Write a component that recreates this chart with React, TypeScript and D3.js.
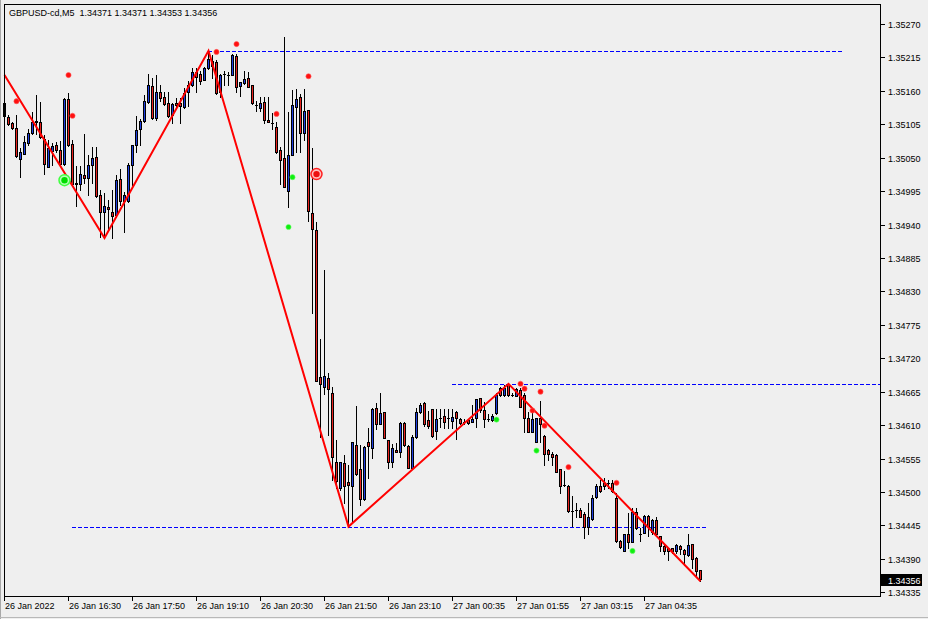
import * as d3 from 'd3';

// GBPUSD M5 bars, left to right
const opens = [
  1.35140, 1.35117, 1.35107, 1.35099, 1.35048, 1.35056, 1.35074, 1.35091, 1.35109, 1.35109,
  1.35081, 1.35035, 1.35061, 1.35071, 1.35063, 1.35040, 1.35147, 1.35073, 1.35008, 1.35007,
  1.35022, 1.35017, 1.35038, 1.35051, 1.34989, 1.34961, 1.34969, 1.34961, 1.34956, 1.35015,
  1.34979, 1.34979, 1.35038, 1.35071, 1.35097, 1.35110, 1.35142, 1.35168, 1.35115, 1.35158,
  1.35150, 1.35140, 1.35120, 1.35140, 1.35140, 1.35134, 1.35158, 1.35170, 1.35191, 1.35188,
  1.35178, 1.35198, 1.35209, 1.35208, 1.35158, 1.35188, 1.35186, 1.35186, 1.35217, 1.35168,
  1.35173, 1.35181, 1.35170, 1.35137, 1.35132, 1.35142, 1.35112, 1.35107, 1.35101, 1.35063,
  1.35050, 1.34995, 1.35055, 1.35134, 1.35150, 1.35091, 1.35129, 1.34959, 1.34931, 1.34689,
  1.34673, 1.34688, 1.34663, 1.34550, 1.34507, 1.34548, 1.34517, 1.34510, 1.34578, 1.34538,
  1.34489, 1.34582, 1.34573, 1.34638, 1.34612, 1.34632, 1.34586, 1.34550, 1.34569, 1.34565,
  1.34614, 1.34576, 1.34540, 1.34591, 1.34632, 1.34647, 1.34619, 1.34637, 1.34601, 1.34622,
  1.34625, 1.34622, 1.34617, 1.34632, 1.34620, 1.34615, 1.34619, 1.34615, 1.34622, 1.34655,
  1.34635, 1.34620, 1.34619, 1.34630, 1.34671, 1.34660, 1.34678, 1.34660, 1.34658, 1.34668,
  1.34660, 1.34622, 1.34599, 1.34582, 1.34622, 1.34592, 1.34569, 1.34563, 1.34561, 1.34537,
  1.34512, 1.34510, 1.34469, 1.34471, 1.34471, 1.34464, 1.34443, 1.34456, 1.34492, 1.34509,
  1.34515, 1.34514, 1.34514, 1.34490, 1.34420, 1.34403, 1.34430, 1.34418, 1.34467, 1.34431,
  1.34433, 1.34461, 1.34434, 1.34454, 1.34428, 1.34411, 1.34408, 1.34408, 1.34402, 1.34411,
  1.34405, 1.34397, 1.34415, 1.34392, 1.34371,
];

const highs = [
  1.35158, 1.35120, 1.35109, 1.35120, 1.35066, 1.35086, 1.35097, 1.35125, 1.35153, 1.35142,
  1.35087, 1.35079, 1.35074, 1.35076, 1.35078, 1.35148, 1.35157, 1.35079, 1.35036, 1.35036,
  1.35089, 1.35055, 1.35068, 1.35068, 1.34997, 1.34992, 1.34981, 1.34997, 1.35022, 1.35031,
  1.34994, 1.35041, 1.35071, 1.35119, 1.35114, 1.35153, 1.35188, 1.35181, 1.35186, 1.35170,
  1.35158, 1.35158, 1.35140, 1.35148, 1.35148, 1.35165, 1.35176, 1.35198, 1.35198, 1.35193,
  1.35199, 1.35226, 1.35219, 1.35211, 1.35188, 1.35193, 1.35191, 1.35221, 1.35221, 1.35175,
  1.35193, 1.35191, 1.35170, 1.35143, 1.35150, 1.35150, 1.35150, 1.35124, 1.35109, 1.35068,
  1.35249, 1.35125, 1.35161, 1.35163, 1.35155, 1.35163, 1.35129, 1.35066, 1.34944, 1.34752,
  1.34865, 1.34696, 1.34673, 1.34586, 1.34550, 1.34561, 1.34545, 1.34582, 1.34642, 1.34578,
  1.34576, 1.34606, 1.34638, 1.34647, 1.34662, 1.34632, 1.34586, 1.34579, 1.34581, 1.34615,
  1.34615, 1.34578, 1.34594, 1.34638, 1.34647, 1.34648, 1.34634, 1.34637, 1.34637, 1.34637,
  1.34637, 1.34637, 1.34637, 1.34634, 1.34622, 1.34620, 1.34620, 1.34643, 1.34653, 1.34655,
  1.34648, 1.34629, 1.34629, 1.34663, 1.34673, 1.34676, 1.34678, 1.34663, 1.34671, 1.34671,
  1.34662, 1.34632, 1.34638, 1.34622, 1.34650, 1.34594, 1.34571, 1.34566, 1.34563, 1.34538,
  1.34535, 1.34512, 1.34494, 1.34481, 1.34474, 1.34467, 1.34481, 1.34495, 1.34513, 1.34520,
  1.34523, 1.34520, 1.34520, 1.34499, 1.34421, 1.34431, 1.34466, 1.34474, 1.34474, 1.34441,
  1.34462, 1.34462, 1.34456, 1.34458, 1.34428, 1.34413, 1.34408, 1.34408, 1.34415, 1.34413,
  1.34406, 1.34430, 1.34415, 1.34393, 1.34371,
];

const lows = [
  1.35117, 1.35104, 1.35097, 1.35051, 1.35018, 1.35056, 1.35071, 1.35089, 1.35089, 1.35082,
  1.35023, 1.35035, 1.35038, 1.35060, 1.35038, 1.35038, 1.35069, 1.35005, 1.34971, 1.34997,
  1.35008, 1.34989, 1.35008, 1.34985, 1.34920, 1.34918, 1.34931, 1.34918, 1.34953, 1.34972,
  1.34928, 1.34977, 1.35005, 1.35060, 1.35071, 1.35109, 1.35140, 1.35114, 1.35112, 1.35143,
  1.35137, 1.35117, 1.35107, 1.35134, 1.35107, 1.35132, 1.35135, 1.35168, 1.35158, 1.35171,
  1.35178, 1.35196, 1.35181, 1.35155, 1.35150, 1.35170, 1.35170, 1.35186, 1.35158, 1.35152,
  1.35171, 1.35166, 1.35138, 1.35127, 1.35127, 1.35107, 1.35109, 1.35097, 1.35058, 1.35007,
  1.35002, 1.34969, 1.35055, 1.35060, 1.35060, 1.35079, 1.34946, 1.34795, 1.34683, 1.34591,
  1.34661, 1.34594, 1.34520, 1.34507, 1.34504, 1.34482, 1.34443, 1.34453, 1.34528, 1.34479,
  1.34487, 1.34523, 1.34556, 1.34604, 1.34611, 1.34589, 1.34540, 1.34541, 1.34565, 1.34558,
  1.34576, 1.34540, 1.34540, 1.34589, 1.34630, 1.34609, 1.34606, 1.34591, 1.34587, 1.34607,
  1.34606, 1.34606, 1.34606, 1.34587, 1.34611, 1.34611, 1.34612, 1.34615, 1.34607, 1.34632,
  1.34607, 1.34617, 1.34617, 1.34629, 1.34658, 1.34658, 1.34658, 1.34658, 1.34658, 1.34640,
  1.34599, 1.34599, 1.34599, 1.34582, 1.34582, 1.34545, 1.34553, 1.34545, 1.34533, 1.34499,
  1.34510, 1.34467, 1.34444, 1.34458, 1.34458, 1.34425, 1.34430, 1.34454, 1.34490, 1.34500,
  1.34505, 1.34507, 1.34500, 1.34418, 1.34408, 1.34403, 1.34408, 1.34418, 1.34439, 1.34420,
  1.34433, 1.34428, 1.34430, 1.34428, 1.34402, 1.34398, 1.34388, 1.34400, 1.34400, 1.34398,
  1.34380, 1.34395, 1.34375, 1.34360, 1.34353,
];

const closes = [
  1.35119, 1.35106, 1.35099, 1.35053, 1.35060, 1.35076, 1.35091, 1.35109, 1.35110, 1.35084,
  1.35040, 1.35066, 1.35069, 1.35063, 1.35040, 1.35147, 1.35071, 1.35007, 1.35007, 1.35023,
  1.35017, 1.35038, 1.35050, 1.34987, 1.34961, 1.34971, 1.34966, 1.34954, 1.35013, 1.34979,
  1.34989, 1.35038, 1.35071, 1.35096, 1.35110, 1.35143, 1.35170, 1.35115, 1.35158, 1.35148,
  1.35138, 1.35119, 1.35138, 1.35137, 1.35135, 1.35157, 1.35170, 1.35191, 1.35183, 1.35176,
  1.35198, 1.35212, 1.35201, 1.35157, 1.35186, 1.35188, 1.35186, 1.35219, 1.35166, 1.35175,
  1.35180, 1.35166, 1.35140, 1.35137, 1.35140, 1.35112, 1.35109, 1.35107, 1.35060, 1.35046,
  1.35002, 1.35055, 1.35137, 1.35147, 1.35091, 1.35127, 1.34962, 1.34933, 1.34683, 1.34678,
  1.34691, 1.34670, 1.34558, 1.34518, 1.34550, 1.34510, 1.34512, 1.34582, 1.34530, 1.34489,
  1.34574, 1.34576, 1.34637, 1.34611, 1.34630, 1.34589, 1.34550, 1.34573, 1.34566, 1.34614,
  1.34578, 1.34540, 1.34591, 1.34632, 1.34643, 1.34611, 1.34609, 1.34592, 1.34620, 1.34622,
  1.34615, 1.34622, 1.34624, 1.34622, 1.34614, 1.34615, 1.34614, 1.34620, 1.34653, 1.34635,
  1.34620, 1.34620, 1.34625, 1.34660, 1.34660, 1.34671, 1.34660, 1.34660, 1.34670, 1.34640,
  1.34622, 1.34599, 1.34620, 1.34622, 1.34611, 1.34563, 1.34563, 1.34558, 1.34533, 1.34509,
  1.34512, 1.34469, 1.34469, 1.34471, 1.34459, 1.34443, 1.34458, 1.34490, 1.34510, 1.34502,
  1.34509, 1.34514, 1.34502, 1.34420, 1.34410, 1.34430, 1.34418, 1.34467, 1.34441, 1.34431,
  1.34461, 1.34443, 1.34454, 1.34430, 1.34411, 1.34402, 1.34402, 1.34402, 1.34413, 1.34406,
  1.34398, 1.34413, 1.34390, 1.34370, 1.34356,
];

// zigzag turning points (bar index, price)
const zigzagBars = [0, 25, 51, 86, 126, 174];
const zigzagPrices = [1.35186, 1.34918, 1.35226, 1.34443, 1.34678, 1.34353];

// dashed horizontal levels
const levelPrices = [1.35226, 1.34678, 1.34443];
const levelFrom = [51, 112, 17];
const levelTo = [209.5, 219, 175.5];

// indicator dots
const redDotBars = [3, 16, 17, 53, 58, 68, 76, 129, 130, 132, 134, 135, 141, 153];
const redDotPrices = [1.35143, 1.35186, 1.35119, 1.35224, 1.35237, 1.35122, 1.35184, 1.34678, 1.34670, 1.34634, 1.34665, 1.34609, 1.34541, 1.34515];
const greenDotBars = [71, 72, 123, 133, 157];
const greenDotPrices = [1.34936, 1.35018, 1.34619, 1.34568, 1.34403];
const buySignalBars = [15];
const buySignalPrices = [1.35013];
const sellSignalBars = [78];
const sellSignalPrices = [1.35023];

const timeLabels = [
  '26 Jan 2022', '26 Jan 16:30', '26 Jan 17:50', '26 Jan 19:10', '26 Jan 20:30', '26 Jan 21:50',
  '26 Jan 23:10', '27 Jan 00:35', '27 Jan 01:55', '27 Jan 03:15', '27 Jan 04:35',
];
const timeLabelBars = [0, 16, 32, 48, 64, 80, 96, 112, 128, 144, 160];

const priceTicks = [
  1.35270, 1.35215, 1.35160, 1.35105, 1.35050, 1.34995, 1.34940, 1.34885, 1.34830,
  1.34775, 1.34720, 1.34665, 1.34610, 1.34555, 1.34500, 1.34445, 1.34390, 1.34335,
];

const W = 928;
const H = 619;
const FONT = '"Liberation Sans", Arial, sans-serif';
const BG = '#efefef';
const BULL = '#1f3fe0';
const BEAR = '#e8231f';

export default function App() {
  const frame = { left: 4, top: 4, right: 880, bottom: 596 };
  const x = d3.scaleLinear().domain([0, 174]).range([4, 700]);
  const y = d3.scaleLinear().domain([1.34337, 1.35270]).range([591, 24]);
  const py = (v: number) => Math.round(y(v));
  const cx = (i: number) => Math.round(x(i)) + 0.5;
  const fmt = d3.format('.5f');

  const zigzag = d3.line<number>()
    .x(k => cx(zigzagBars[k]))
    .y(k => y(zigzagPrices[k]));

  const lastClose = closes[closes.length - 1];

  const candles = d3.range(opens.length).map(i => {
    const left = Math.round(x(i));
    const top = py(Math.max(opens[i], closes[i]));
    const bot = py(Math.min(opens[i], closes[i]));
    const color = closes[i] > opens[i] ? BULL : BEAR;
    return (
      <g key={i}>
        <line x1={left + 0.5} x2={left + 0.5} y1={py(highs[i])} y2={py(lows[i]) + 1} stroke="#000" />
        {bot - top < 1 ? (
          <line x1={left - 1} x2={left + 2} y1={top + 0.5} y2={top + 0.5} stroke="#000" />
        ) : (
          <rect x={left - 0.5} y={top + 0.5} width={2} height={bot - top} fill={color} stroke="#000" />
        )}
      </g>
    );
  });

  return (
    <svg
      width={W}
      height={H}
      style={{ position: 'absolute', left: 0, top: 0, display: 'block', background: BG }}
      fontFamily={FONT}
    >
      <rect x={0} y={0} width={W} height={H} fill={BG} />
      <line x1={0.5} x2={0.5} y1={0} y2={H} stroke="#a8a8a8" />
      <line x1={0} x2={W} y1={617.5} y2={617.5} stroke="#b8b8b8" />

      {/* dashed levels */}
      {levelPrices.map((p, k) => (
        <line
          key={k}
          x1={x(levelFrom[k])}
          x2={Math.min(x(levelTo[k]), frame.right)}
          y1={py(p) + 0.5}
          y2={py(p) + 0.5}
          stroke="#0000ff"
          strokeDasharray="4,2"
        />
      ))}

      {candles}

      {/* zigzag */}
      <path d={zigzag(d3.range(zigzagBars.length)) ?? ''} fill="none" stroke="#ff0000" strokeWidth={2} />

      {/* signal dots */}
      {redDotBars.map((b, k) => (
        <circle key={`r${k}`} cx={cx(b)} cy={y(redDotPrices[k])} r={2.6} fill="#ff1010" stroke="#ff6060" strokeWidth={0.6} />
      ))}
      {greenDotBars.map((b, k) => (
        <circle key={`g${k}`} cx={cx(b)} cy={y(greenDotPrices[k])} r={2.6} fill="#10ee10" stroke="#70ff70" strokeWidth={0.6} />
      ))}
      {buySignalBars.map((b, k) => (
        <g key={`b${k}`}>
          <circle cx={cx(b)} cy={y(buySignalPrices[k])} r={5.5} fill="#b8ffb8" stroke="#40ff40" strokeWidth={1.5} />
          <circle cx={cx(b)} cy={y(buySignalPrices[k])} r={3.2} fill="#00dd00" />
        </g>
      ))}
      {sellSignalBars.map((b, k) => (
        <g key={`s${k}`}>
          <circle cx={cx(b)} cy={y(sellSignalPrices[k])} r={5.5} fill="#ffc0c0" stroke="#ff2020" strokeWidth={1.5} />
          <circle cx={cx(b)} cy={y(sellSignalPrices[k])} r={3.2} fill="#ee1010" />
        </g>
      ))}

      {/* frame */}
      <rect
        x={frame.left + 0.5}
        y={frame.top + 0.5}
        width={frame.right - frame.left}
        height={frame.bottom - frame.top}
        fill="none"
        stroke="#000"
      />

      <text x={9} y={16} fontSize={9} fill="#000" style={{ whiteSpace: 'pre' }}>
        {`GBPUSD-cd,M5  ${fmt(opens[174])} ${fmt(highs[174])} ${fmt(lows[174])} ${fmt(closes[174])}`}
      </text>

      {/* price axis */}
      {priceTicks.map(t => (
        <g key={t}>
          <line x1={frame.right + 1} x2={frame.right + 5} y1={py(t) + 0.5} y2={py(t) + 0.5} stroke="#000" />
          <text x={frame.right + 8} y={py(t) + 4} fontSize={9} fill="#000">{fmt(t)}</text>
        </g>
      ))}
      <rect x={frame.right + 1} y={py(lastClose) - 5} width={41} height={12} fill="#000" />
      <text x={frame.right + 8} y={py(lastClose) + 4.5} fontSize={9} fill="#fff">{fmt(lastClose)}</text>

      {/* time axis */}
      {timeLabelBars.map((b, k) => (
        <g key={b}>
          <line x1={cx(b)} x2={cx(b)} y1={frame.bottom + 1} y2={frame.bottom + 5} stroke="#000" />
          <text x={cx(b) + 0.5} y={609} fontSize={9} fill="#000">{timeLabels[k]}</text>
        </g>
      ))}
    </svg>
  );
}
